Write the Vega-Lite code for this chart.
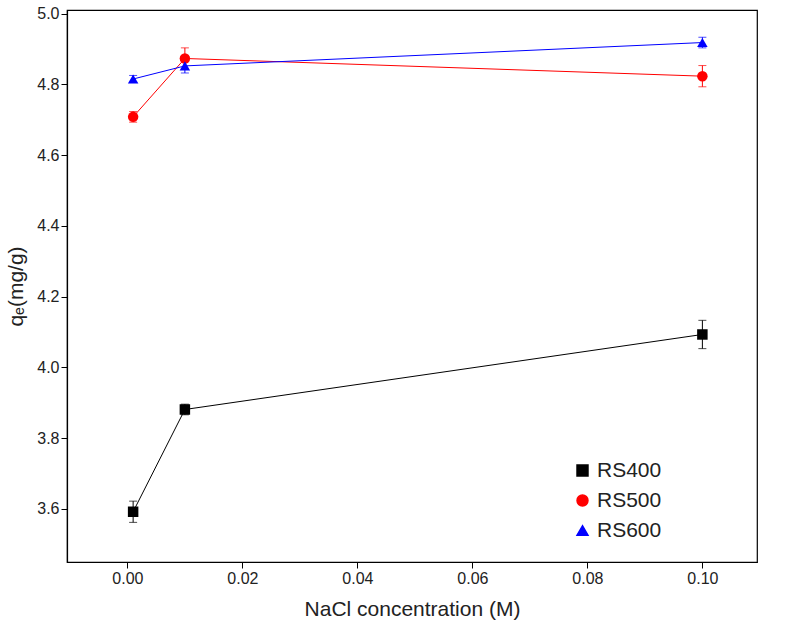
{
  "$schema": "https://vega.github.io/schema/vega-lite/v6.json",
  "width": 690,
  "height": 552,
  "config": {
    "font": "Liberation Sans",
    "view": {"stroke": "black", "strokeWidth": 1.2},
    "axis": {"grid": false, "domainColor": "black", "tickColor": "black", "labelColor": "#222", "titleColor": "#222", "labelFontSize": 16, "titleFontSize": 21, "titleFontWeight": "normal", "tickSize": 6, "domainWidth": 1.2}
  },
  "data": {"values": [
    {"s": "RS400", "x": 0.001, "q": 3.592, "e": 0.03},
    {"s": "RS400", "x": 0.01, "q": 3.881, "e": 0.015},
    {"s": "RS400", "x": 0.1, "q": 4.093, "e": 0.04},
    {"s": "RS500", "x": 0.001, "q": 4.708, "e": 0.015},
    {"s": "RS500", "x": 0.01, "q": 4.873, "e": 0.03},
    {"s": "RS500", "x": 0.1, "q": 4.823, "e": 0.03},
    {"s": "RS600", "x": 0.001, "q": 4.815, "e": 0.01},
    {"s": "RS600", "x": 0.01, "q": 4.852, "e": 0.02},
    {"s": "RS600", "x": 0.1, "q": 4.918, "e": 0.015}
  ]},
  "transform": [
    {"calculate": "datum.q - datum.e", "as": "lo"},
    {"calculate": "datum.q + datum.e", "as": "hi"}
  ],
  "encoding": {
    "x": {"field": "x", "type": "quantitative", "title": "NaCl concentration (M)",
      "scale": {"domain": [-0.0105, 0.1095], "nice": false},
      "axis": {"values": [0, 0.02, 0.04, 0.06, 0.08, 0.1], "format": ".2f", "titlePadding": 12}},
    "color": {"field": "s", "type": "nominal", "title": null,
      "scale": {"domain": ["RS400", "RS500", "RS600"], "range": ["black", "red", "blue"]},
      "legend": {"orient": "none", "legendX": 505, "legendY": 450, "labelFontSize": 21, "symbolSize": 120, "rowPadding": 8, "labelColor": "#222"}},
    "shape": {"field": "s", "type": "nominal",
      "scale": {"domain": ["RS400", "RS500", "RS600"], "range": ["square", "circle", "triangle-up"]}}
  },
  "layer": [
    {"mark": {"type": "line", "strokeWidth": 1},
      "encoding": {"y": {"field": "q", "type": "quantitative", "title": "qₑ(mg/g)",
        "scale": {"domain": [3.45, 5.01], "nice": false},
        "axis": {"values": [3.6, 3.8, 4.0, 4.2, 4.4, 4.6, 4.8, 5.0], "format": ".1f", "titlePadding": 10}}}},
    {"mark": {"type": "errorbar", "ticks": {"size": 8}, "thickness": 1},
      "encoding": {"y": {"field": "lo", "type": "quantitative", "title": "qₑ(mg/g)"}, "y2": {"field": "hi"}}},
    {"mark": {"type": "point", "filled": true, "size": 110, "opacity": 1},
      "encoding": {"y": {"field": "q", "type": "quantitative", "title": "qₑ(mg/g)"}}}
  ]
}
